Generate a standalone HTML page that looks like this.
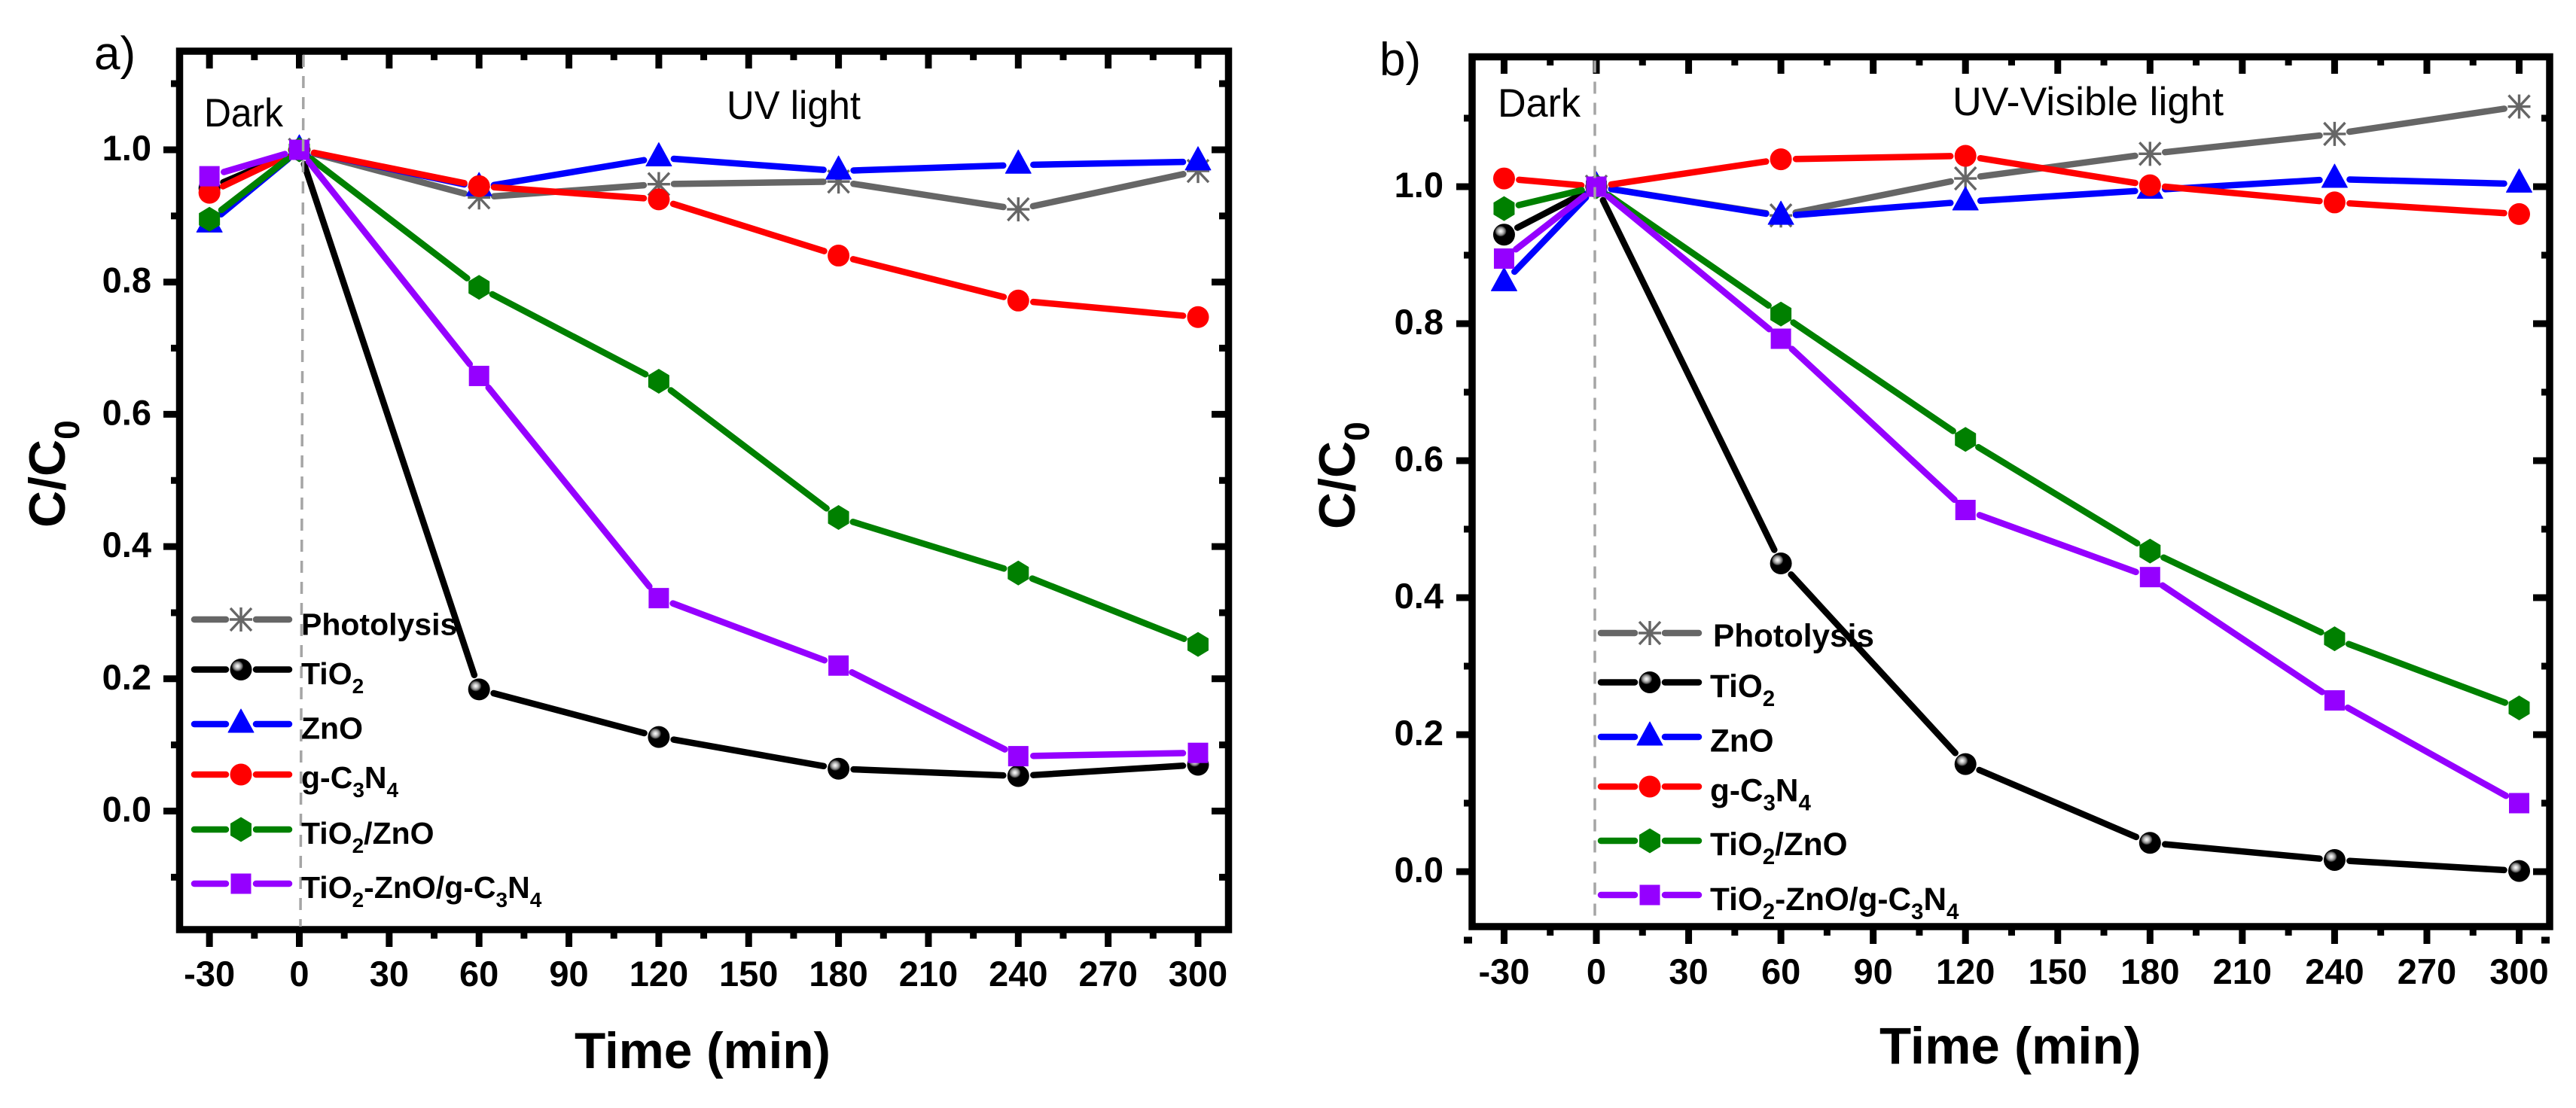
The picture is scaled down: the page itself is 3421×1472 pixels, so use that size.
<!DOCTYPE html>
<html>
<head>
<meta charset="utf-8">
<title>C/C0 vs time, panels a and b</title>
<style>
html,body{margin:0;padding:0;background:#fff;}
svg{display:block;}
text{font-family:"Liberation Sans",sans-serif;fill:#000;}
.b{font-weight:bold;}
.leg{font-weight:bold;font-size:41px;}
.legb{font-weight:bold;font-size:42.3px;}
.ann{font-size:53px;}
.title{font-weight:bold;}
</style>
</head>
<body>
<svg id="chart" xmlns="http://www.w3.org/2000/svg" width="3421" height="1472" viewBox="0 0 3421 1472">
<defs>
<radialGradient id="ballShine">
<stop offset="0" stop-color="#ffffff"/>
<stop offset="0.35" stop-color="#d0d0d0"/>
<stop offset="0.7" stop-color="#888888"/>
<stop offset="1" stop-color="#222222"/>
</radialGradient>
</defs>
<rect x="0" y="0" width="3421" height="1472" fill="#fff"/>
<g id="panel-a"></g>
<g id="panel-b"></g>

<g>
<text x="125" y="92" font-size="62">a)</text>
<text class="ann" x="271" y="168" textLength="105" lengthAdjust="spacingAndGlyphs">Dark</text>
<text class="ann" x="965" y="158" textLength="178" lengthAdjust="spacingAndGlyphs">UV light</text>
<text class="title" x="763" y="1419" font-size="67.5">Time (min)</text>
<text class="title" transform="translate(86,701) rotate(-90)" font-size="68">C/C<tspan dy="19" font-size="46">0</tspan></text>
<text class="leg" x="400" y="843.5">Photolysis</text>
<text class="leg" x="400" y="909">TiO<tspan dy="12" font-size="28">2</tspan></text>
<text class="leg" x="400" y="981.5">ZnO</text>
<text class="leg" x="400" y="1047">g-C<tspan dy="12" font-size="28">3</tspan><tspan dy="-12">N</tspan><tspan dy="12" font-size="28">4</tspan></text>
<text class="leg" x="400" y="1121">TiO<tspan dy="12" font-size="28">2</tspan><tspan dy="-12">/ZnO</tspan></text>
<text class="leg" x="400" y="1193">TiO<tspan dy="12" font-size="28">2</tspan><tspan dy="-12">-ZnO/g-C</tspan><tspan dy="12" font-size="28">3</tspan><tspan dy="-12">N</tspan><tspan dy="12" font-size="28">4</tspan></text>
</g>

<g>
<text x="1832" y="100" font-size="62">b)</text>
<text class="ann" x="1989" y="155" textLength="110" lengthAdjust="spacingAndGlyphs">Dark</text>
<text class="ann" x="2593" y="153" textLength="360" lengthAdjust="spacingAndGlyphs">UV-Visible light</text>
<text class="title" x="2496" y="1413" font-size="69">Time (min)</text>
<text class="title" transform="translate(1799,703) rotate(-90)" font-size="68">C/C<tspan dy="19" font-size="46">0</tspan></text>
<text class="legb" x="2275" y="859">Photolysis</text>
<text class="legb" x="2271" y="926">TiO<tspan dy="12" font-size="29.5">2</tspan></text>
<text class="legb" x="2271" y="998.5">ZnO</text>
<text class="legb" x="2271" y="1064.5">g-C<tspan dy="12" font-size="29.5">3</tspan><tspan dy="-12">N</tspan><tspan dy="12" font-size="29.5">4</tspan></text>
<text class="legb" x="2271" y="1136">TiO<tspan dy="12" font-size="29.5">2</tspan><tspan dy="-12">/ZnO</tspan></text>
<text class="legb" x="2271" y="1209">TiO<tspan dy="12" font-size="29.5">2</tspan><tspan dy="-12">-ZnO/g-C</tspan><tspan dy="12" font-size="29.5">3</tspan><tspan dy="-12">N</tspan><tspan dy="12" font-size="29.5">4</tspan></text>
</g>
</svg>
<script>
// ---- data ----
const times = [-30, 0, 60, 120, 180, 240, 300];
const xTickLabels = [-30, 0, 30, 60, 90, 120, 150, 180, 210, 240, 270, 300];
const xMinorTicks = [-15, 15, 45, 75, 105, 135, 165, 195, 225, 255, 285];
const yTickLabels = ['0.0', '0.2', '0.4', '0.6', '0.8', '1.0'];
const yMinorTicks = [-0.1, 0.1, 0.3, 0.5, 0.7, 0.9, 1.1];

const photolysisA = [null, 1.0, 0.928, 0.948, 0.952, 0.91, 0.968];
const tio2A       = [0.942, 1.0, 0.184, 0.112, 0.064, 0.053, 0.07];
const znoA        = [0.888, 1.0, 0.943, 0.988, 0.968, 0.977, 0.982];
const gcnA        = [0.935, 1.0, 0.945, 0.925, 0.84, 0.772, 0.747];
const tio2ZnoA    = [0.895, 1.0, 0.792, 0.65, 0.444, 0.36, 0.252];
const ternaryA    = [0.96, 1.0, 0.658, 0.322, 0.22, 0.083, 0.088];

const photolysisB = [null, 1.0, 0.958, 1.012, 1.048, 1.077, 1.117];
const tio2B       = [0.93, 1.0, 0.45, 0.157, 0.042, 0.017, 0.001];
const znoB        = [0.86, 1.0, 0.957, 0.978, 0.995, 1.011, 1.004];
const gcnB        = [1.012, 1.0, 1.04, 1.045, 1.002, 0.977, 0.96];
const tio2ZnoB    = [0.968, 1.0, 0.814, 0.631, 0.468, 0.34, 0.239];
const ternaryB    = [0.895, 1.0, 0.778, 0.528, 0.43, 0.25, 0.1];

const seriesKeys = ['photolysis', 'tio2', 'zno', 'gcn', 'tio2-zno', 'ternary'];
const seriesColors = ['#666666', '#000000', '#0000ff', '#ff0000', '#008000', '#9500ff'];
const seriesShapes = ['star', 'ball', 'triangle', 'circle', 'hexagon', 'square'];

// ---- drawing ----
const NS = 'http://www.w3.org/2000/svg';
function mk(tag, attrs, parent) {
  const el = document.createElementNS(NS, tag);
  for (const k in attrs) el.setAttribute(k, attrs[k]);
  parent.appendChild(el);
  return el;
}

function linearScale(v0, p0, v1, p1) {
  return function (v) { return p0 + (v - v0) * (p1 - p0) / (v1 - v0); };
}

function drawMarker(parent, shape, color, cx, cy, name) {
  const g = mk('g', { transform: 'translate(' + cx + ',' + cy + ')' }, parent);
  
  
  if (shape === 'star') {
    const s = { stroke: color, 'stroke-width': 3.4, fill: 'none' };
    mk('path', Object.assign({ d: 'M0,-16V16M-15,0H15M-14,-15L14,15M-14,15L14,-15' }, s), g);
  } else if (shape === 'ball') {
    mk('circle', { r: 14.5, fill: '#000' }, g);
    mk('ellipse', { cx: -4.5, cy: -4.5, rx: 7.5, ry: 7, fill: 'url(#ballShine)' }, g);
  } else if (shape === 'triangle') {
    mk('path', { d: 'M0,-20L17,11H-17Z', fill: color, stroke: color, 'stroke-width': 1, 'stroke-linejoin': 'round' }, g);
  } else if (shape === 'circle') {
    mk('circle', { r: 14.5, fill: color }, g);
  } else if (shape === 'hexagon') {
    mk('path', { d: 'M0,-16.5L14,-8V8L0,16.5L-14,8V-8Z', fill: color }, g);
  } else if (shape === 'square') {
    mk('rect', { x: -13.5, y: -13.5, width: 27, height: 27, fill: color }, g);
  }
}

function drawSegment(parent, color, x1, y1, x2, y2, gap) {
  const dx = x2 - x1, dy = y2 - y1, len = Math.sqrt(dx * dx + dy * dy);
  if (len <= gap * 2) return null;
  const ux = dx / len, uy = dy / len;
  return mk('line', {
    x1: x1 + ux * gap, y1: y1 + uy * gap,
    x2: x2 - ux * gap, y2: y2 - uy * gap,
    stroke: color, 'stroke-width': 8.5, 'stroke-linecap': 'round'
  }, parent);
}

function drawPanel(p) {
  const root = document.getElementById(p.id);
  const X = linearScale(0, p.x0, 300, p.x300);
  const Y = linearScale(0, p.y0, 1, p.y1);

  // series
  p.values.forEach(function (vals, i) {
    const g = mk('g', {}, root);
    
    
    const pts = [];
    vals.forEach(function (v, j) { if (v !== null) pts.push([X(times[j]), Y(v)]); });
    for (let j = 0; j + 1 < pts.length; j++) {
      const seg = drawSegment(g, seriesColors[i], pts[j][0], pts[j][1], pts[j + 1][0], pts[j + 1][1], 20);
      if (seg) {
        
        
      }
    }
    pts.forEach(function (pt) {
      drawMarker(g, seriesShapes[i], seriesColors[i], pt[0], pt[1], seriesKeys[i] + '-marker');
    });
  });

  // frame
  const frame = mk('rect', {
    x: p.left, y: p.top, width: p.right - p.left, height: p.bottom - p.top,
    fill: 'none', stroke: '#000', 'stroke-width': 9.5
  }, root);
  
  

  // x ticks
  const xAxis = mk('g', {}, root);
  
  
  xTickLabels.forEach(function (t) {
    const x = X(t);
    const d = 'M' + x + ',' + p.bottom + 'V' + p.xMajorBottom + 'M' + x + ',' + p.top + 'V' + p.xMajorTop;
    const tick = mk('path', { d: d, stroke: '#000', 'stroke-width': 9 }, xAxis);
    
    
    const lab = mk('text', { x: x, y: p.xLabelY, 'text-anchor': 'middle', 'font-size': 47, class: 'b' }, xAxis);
    lab.textContent = String(t);
    
    
  });
  xMinorTicks.forEach(function (t) {
    const x = X(t);
    const d = 'M' + x + ',' + p.bottom + 'V' + p.xMinorBottom + 'M' + x + ',' + p.top + 'V' + p.xMinorTop;
    const tick = mk('path', { d: d, stroke: '#000', 'stroke-width': 9 }, xAxis);
    
    
  });

  // y ticks
  const yAxis = mk('g', {}, root);
  
  
  yTickLabels.forEach(function (t) {
    const y = Y(parseFloat(t));
    const d = 'M' + p.yMajorLeft + ',' + y + 'H' + p.left + 'M' + p.right + ',' + y + 'H' + p.yMajorRight;
    const tick = mk('path', { d: d, stroke: '#000', 'stroke-width': 9 }, yAxis);
    
    
    const lab = mk('text', { x: p.yLabelX, y: y + 14, 'text-anchor': 'end', 'font-size': 47, class: 'b' }, yAxis);
    lab.textContent = t;
    
    
  });
  yMinorTicks.forEach(function (t) {
    const y = Y(t);
    const d = 'M' + p.yMinorLeft + ',' + y + 'H' + p.left + 'M' + p.right + ',' + y + 'H' + p.yMinorRight;
    const tick = mk('path', { d: d, stroke: '#000', 'stroke-width': 9 }, yAxis);
    
    
  });

  // dark / light divider
  const divider = mk('line', {
    x1: p.dashTopX, y1: p.top + 5, x2: p.dashBottomX, y2: p.bottom - 4,
    stroke: '#a5a5a5', 'stroke-width': 3.5, 'stroke-dasharray': '16 12'
  }, root);
  
  

  // legend swatches
  p.legendRows.forEach(function (rowY, i) {
    const g = mk('g', {}, root);
    
    
    mk('line', { x1: p.legendX1 + 4, y1: rowY, x2: p.legendMid - 20, y2: rowY, stroke: seriesColors[i], 'stroke-width': 8.5, 'stroke-linecap': 'round' }, g);
    mk('line', { x1: p.legendMid + 20, y1: rowY, x2: p.legendX2 - 4, y2: rowY, stroke: seriesColors[i], 'stroke-width': 8.5, 'stroke-linecap': 'round' }, g);
    drawMarker(g, seriesShapes[i], seriesColors[i], p.legendMid, rowY, 'legend-marker-' + seriesKeys[i]);
  });
}

drawPanel({
  id: 'panel-a',
  values: [photolysisA, tio2A, znoA, gcnA, tio2ZnoA, ternaryA],
  x0: 397.5, x300: 1591, y0: 1077.5, y1: 199,
  left: 238.5, right: 1631.5, top: 68, bottom: 1235,
  xMajorBottom: 1258, xMinorBottom: 1247, xMajorTop: 91, xMinorTop: 80,
  yMajorLeft: 217, yMinorLeft: 227, yMajorRight: 1609, yMinorRight: 1619,
  xLabelY: 1310, yLabelX: 201,
  dashTopX: 403, dashBottomX: 399,
  legendRows: [823, 889.5, 962, 1029, 1102, 1174],
  legendX1: 254, legendX2: 388, legendMid: 320
});

drawPanel({
  id: 'panel-b',
  values: [photolysisB, tio2B, znoB, gcnB, tio2ZnoB, ternaryB],
  x0: 2120, x300: 3345.5, y0: 1158, y1: 248,
  left: 1955, right: 3386, top: 75.5, bottom: 1231,
  xMajorBottom: 1254, xMinorBottom: 1243, xMajorTop: 98, xMinorTop: 87,
  yMajorLeft: 1934, yMinorLeft: 1944, yMajorRight: 3364, yMinorRight: 3375,
  xLabelY: 1307, yLabelX: 1917,
  dashTopX: 2118, dashBottomX: 2118,
  legendRows: [841, 906.5, 979, 1045, 1117, 1189],
  legendX1: 2122, legendX2: 2260, legendMid: 2191
});
</script>
</body>
</html>
